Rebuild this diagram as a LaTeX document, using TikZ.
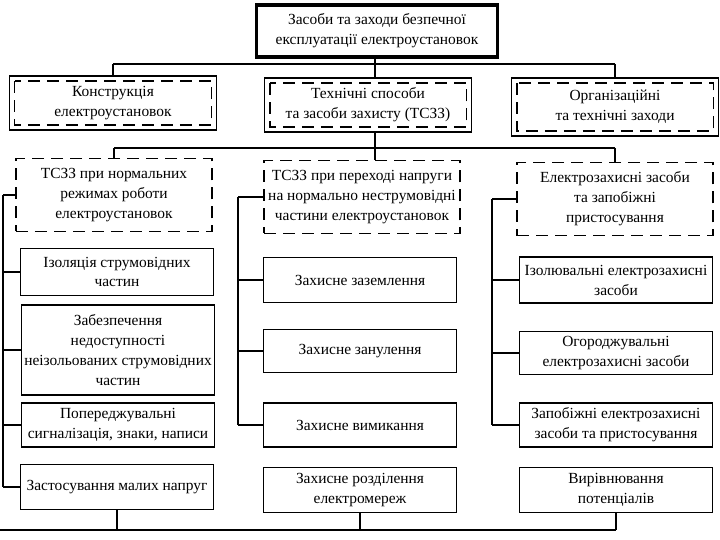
\documentclass[tikz,border=0pt]{standalone}
\usepackage{fontspec}
\setmainfont{Liberation Serif}
\usetikzlibrary{calc}
\tikzset{
  every picture/.style={line width=1.8bp, x=1bp, y=-1bp, font=\fontsize{15.5}{20}\selectfont},
  box/.style={draw, align=center, inner sep=2pt, minimum width=193bp},
  head/.style={box, minimum width=207bp, minimum height=54bp},
  dbox/.style={draw, dash pattern=on 12bp off 7bp, align=center, inner sep=2pt, minimum width=196bp, minimum height=73bp},
  inner/.style={dash pattern=on 12bp off 7bp},
}

\begin{document}
\begin{tikzpicture}
\useasboundingbox (0,0) rectangle (720,540);
% root and first level
\node[box, line width=3.4bp, minimum width=241bp, minimum height=52bp] (top) at (377,31) {Засоби та заходи безпечної\\експлуатації електроустановок};
\node[head] (kon) at (113,103) {Конструкція\\електроустановок};
\node[head] (tech) at (368,105) {Технічні способи\\та засоби захисту (ТСЗЗ)};
\node[head, minimum height=58bp] (org) at (615,107) {Організаційні\\та технічні заходи};
\foreach \n in {kon,tech,org} \draw[inner] ($(\n.north west)+(6,6)$) rectangle ($(\n.south east)+(-6,-6)$);
% second level
\node[dbox] (norm) at (114,195) {ТСЗЗ при нормальних\\режимах роботи\\електроустановок};
\node[dbox] (pere) at (362,197) {ТСЗЗ при переході напруги\\на нормально неструмовідні\\частини електроустановок};
\node[dbox] (ezz) at (615,199) {Електрозахисні засоби\\та запобіжні\\пристосування};
% left column
\node[box, minimum height=47bp] (iz) at (117,272) {Ізоляція струмовідних\\частин};
\node[box, minimum height=90bp] (zab) at (118,350) {Забезпечення\\недоступності\\неізольованих струмовідних\\частин};
\node[box, minimum height=44bp] (pop) at (118,425) {Попереджувальні\\сигналізація, знаки, написи};
\node[box, minimum height=45bp] (mal) at (117,487) {Застосування малих напруг};
% middle column
\node[box, minimum height=45bp] (zaz) at (360,280) {Захисне заземлення};
\node[box, minimum height=43bp] (zan) at (360,351) {Захисне занулення};
\node[box, minimum height=44bp] (vym) at (360,425) {Захисне вимикання};
\node[box, minimum height=45bp] (rozd) at (360,490) {Захисне розділення\\електромереж};
% right column
\node[box, minimum height=46bp] (izol) at (616,280) {Ізолювальні електрозахисні\\засоби};
\node[box, minimum height=43bp] (ogor) at (616,353) {Огороджувальні\\електрозахисні засоби};
\node[box, minimum height=44bp] (zapob) at (616,425) {Запобіжні електрозахисні\\засоби та пристосування};
\node[box, minimum height=45bp] (vyr) at (616,490) {Вирівнювання\\потенціалів};
% buses and spines
\coordinate (b1) at (375,64);
\coordinate (b2) at (375,148);
\coordinate (b3) at (0,530);
\coordinate (sL) at (3,0);
\coordinate (sM) at (238,0);
\coordinate (sR) at (492,0);
\draw (b1 |- top.south) -- (b1 |- tech.north);
\draw (kon.north |- b1) -- (org.north |- b1);
\foreach \n in {kon,org} \draw (\n.north |- b1) -- (\n.north);
\draw (b2 |- tech.south) -- (b2 |- pere.north);
\draw (norm.north |- b2) -- (ezz.north |- b2);
\foreach \n in {norm,ezz} \draw (\n.north |- b2) -- (\n.north);
\draw (sL |- norm.west) -- (sL |- mal.west);
\foreach \n in {norm,iz,zab,pop,mal} \draw (sL |- \n.west) -- (\n.west);
\draw (sM |- pere.west) -- (sM |- vym.west);
\foreach \n in {pere,zaz,zan,vym} \draw (sM |- \n.west) -- (\n.west);
\draw (sR |- ezz.west) -- (sR |- zapob.west);
\foreach \n in {ezz,izol,ogor,zapob} \draw (sR |- \n.west) -- (\n.west);
\draw (b3) -- (b3 -| vyr.south);
\foreach \n in {mal,rozd,vyr} \draw (\n.south) -- (\n.south |- b3);
\end{tikzpicture}
\end{document}
